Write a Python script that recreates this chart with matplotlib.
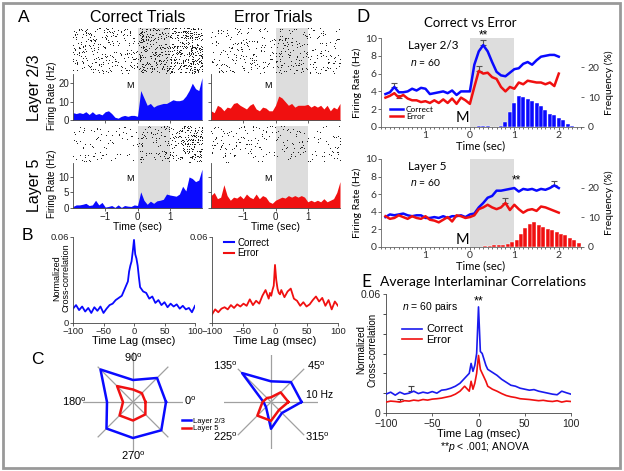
import numpy as np
import matplotlib
matplotlib.use('Agg')
import matplotlib.pyplot as plt
from matplotlib.patches import Rectangle
from matplotlib.lines import Line2D
from matplotlib.ticker import MultipleLocator

plt.rcParams['font.family'] = ['Liberation Sans', 'DejaVu Sans']
plt.rcParams['mathtext.fontset'] = 'custom'
plt.rcParams['mathtext.rm'] = 'Liberation Sans'
plt.rcParams['mathtext.it'] = 'Liberation Sans:italic'

W, H = 624, 471
BLUE = '#0a0aff'
RED = '#f01010'
SHADE = '#dddddd'
CAL = ['Lato', 'DejaVu Sans']

# ---------------- data: panel A (PSTH, Hz, 0.1 s bins from -2 to 2) ----------------
t_psth = np.round(np.arange(-2.0, 2.01, 0.1), 2)
psth_l23_correct = [4, 3.5, 4, 3.5, 4.5, 3, 4.5, 3, 3.5, 2.8, 4.5, 5, 3.5, 1.5, 1.0, 2, 2.5, 2.0, 2.5, 2.5,
                    2.0, 16, 12, 8, 9, 7, 8, 8.5, 9, 9, 10, 11, 10.5, 10.5, 11, 13, 16, 20, 17, 16, 23]
psth_l23_error = [5, 4, 8, 7, 5, 7, 6.5, 9, 9.5, 8, 7, 6, 8, 9, 6, 5, 7, 6.5, 5, 5,
                  8, 13, 12, 10, 8, 9, 7, 8, 8, 8, 8.5, 7, 8, 7, 8, 6, 8, 5, 7, 6, 9]
psth_l5_correct = [0.5, 1, 1, 1.2, 1.5, 0.8, 1, 2.5, 1, 1.8, 0.3, 0.5, 0.8, 0.2, 1, 0.2, 0.8, 0.6, 0.5, 1,
                   0.8, 5.2, 2.5, 1.2, 2.2, 1.5, 2.3, 2.5, 2.8, 4.5, 4.2, 4, 3.8, 4.5, 7, 5.5, 10, 9.5, 8.5, 9, 12.5]
psth_l5_error = [4, 5, 3, 3.5, 7.5, 4, 2.5, 3.5, 3.2, 4, 3, 4.5, 3.5, 3, 4.5, 3, 4, 3.5, 2, 1.5,
                 2.5, 3, 3.5, 3.2, 4, 3.5, 4, 3.5, 4, 3.5, 2, 2.5, 2, 2.5, 2, 3, 2, 2.5, 3, 5, 8.5]

# ---------------- data: panel B / E (cross-correlation) ----------------
lag = [-100, -95, -90, -85, -80, -75, -70, -65, -60, -55, -50, -45, -40, -35, -30, -25, -20, -15, -10,
       -8, -6, -4, -2, 0, 2, 4, 6, 8, 10, 15, 20, 25, 30, 35, 40, 45, 50, 55, 60, 65, 70, 75, 80, 85, 90, 95, 100]
ccg_b_correct = [0.010, 0.0125, 0.009, 0.0115, 0.008, 0.0105, 0.007, 0.011, 0.0085, 0.0115, 0.007, 0.010,
                 0.0125, 0.0135, 0.016, 0.0175, 0.019, 0.024, 0.029, 0.036, 0.040, 0.043, 0.050, 0.058,
                 0.048, 0.045, 0.040, 0.032, 0.025, 0.022, 0.021, 0.017, 0.0185, 0.014, 0.016, 0.0125,
                 0.0145, 0.011, 0.0135, 0.0115, 0.013, 0.010, 0.012, 0.0095, 0.0105, 0.0075, 0.012]
ccg_b_error = [0.006, 0.0095, 0.0075, 0.010, 0.011, 0.0095, 0.0125, 0.0105, 0.013, 0.0115, 0.0135, 0.012,
               0.0165, 0.0125, 0.0155, 0.0135, 0.019, 0.023, 0.017, 0.021, 0.019, 0.023, 0.026, 0.0405,
               0.030, 0.024, 0.021, 0.020, 0.023, 0.018, 0.022, 0.024, 0.017, 0.0155, 0.012, 0.0145,
               0.0115, 0.013, 0.016, 0.0185, 0.015, 0.0175, 0.012, 0.016, 0.0095, 0.015, 0.012]
ccg_e_correct = [0.0095, 0.0105, 0.009, 0.0105, 0.0095, 0.010, 0.011, 0.0098, 0.0105, 0.010, 0.0108, 0.010,
                 0.0115, 0.0118, 0.0125, 0.0135, 0.015, 0.0175, 0.020, 0.025, 0.021, 0.024, 0.030, 0.0535,
                 0.031, 0.030, 0.027, 0.024, 0.022, 0.0205, 0.019, 0.017, 0.0155, 0.014, 0.0135, 0.0125,
                 0.012, 0.0115, 0.0118, 0.011, 0.0105, 0.010, 0.0095, 0.0092, 0.011, 0.0102, 0.0095]
ccg_e_error = [0.0055, 0.006, 0.0058, 0.0055, 0.0062, 0.006, 0.0065, 0.0062, 0.0068, 0.0065, 0.007, 0.0072,
               0.0075, 0.008, 0.0085, 0.0095, 0.011, 0.0135, 0.011, 0.016, 0.012, 0.015, 0.020, 0.029,
               0.022, 0.020, 0.018, 0.016, 0.0135, 0.012, 0.011, 0.0098, 0.0088, 0.0082, 0.0078, 0.0072,
               0.007, 0.0068, 0.0065, 0.0062, 0.0064, 0.006, 0.0058, 0.0062, 0.0055, 0.006, 0.0058]

# ---------------- data: panel C (tuning, Hz) ----------------
directions = [0, 45, 90, 135, 180, 225, 270, 315]
tune1_l23 = [6.6, 6.8, 4.4, 9.2, 5.2, 7.5, 7.2, 8.0]
tune1_l5 = [2.5, 2.5, 2.5, 4.5, 2.0, 3.8, 3.7, 3.5]
tune2_l23 = [6.5, 6.0, 4.4, 8.7, 1.6, 1.5, 5.7, 3.3]
tune2_l5 = [3.7, 2.9, 1.0, 1.2, 1.8, 4.1, 4.0, 2.4]

# ---------------- data: panel D (population firing rate) ----------------
t_pop = np.round(np.arange(-1.9, 2.01, 0.1), 2)
pop_l23_correct = [3.7, 3.9, 4.5, 3.9, 3.9, 4.0, 4.3, 4.1, 4.4, 4.3, 3.7, 3.8, 3.9, 4.0, 3.8, 4.1, 3.6, 4.0, 4.0,
                   4.0, 7.0, 8.5, 9.2, 8.5, 7.3, 6.2, 5.8, 5.7, 6.1, 6.5, 6.6, 7.1, 7.3, 7.0, 7.5, 7.9, 8.0, 8.1, 8.1, 7.9]
pop_l23_error = [3.3, 3.5, 3.8, 3.3, 3.6, 3.2, 3.0, 3.0, 2.8, 2.9, 2.7, 3.0, 2.7, 3.1, 2.7, 3.2, 2.6, 3.3, 3.0,
                 2.6, 4.5, 6.3, 6.0, 6.1, 5.6, 5.4, 4.5, 4.0, 4.5, 4.3, 5.0, 4.8, 5.2, 5.1, 5.0, 5.0, 4.8, 5.0, 4.6, 6.0]
pop_l5_correct = [3.4, 3.7, 3.6, 3.7, 3.8, 3.6, 3.5, 3.6, 3.6, 3.3, 3.3, 3.4, 3.3, 3.5, 3.3, 3.5, 3.5, 3.6, 3.4,
                  3.7, 3.8, 4.5, 5.0, 5.6, 5.8, 6.4, 6.4, 6.5, 6.6, 6.7, 6.3, 6.6, 6.5, 6.6, 6.4, 6.6, 6.5, 6.7, 7.0, 6.7]
pop_l5_error = [3.5, 3.2, 3.3, 3.6, 3.4, 3.2, 3.5, 3.3, 3.2, 3.5, 3.1, 3.0, 2.8, 3.1, 3.4, 2.9, 3.6, 3.5, 3.3,
                3.4, 3.6, 4.3, 4.5, 4.8, 4.5, 4.3, 4.5, 5.0, 4.2, 4.8, 4.3, 3.9, 4.2, 4.3, 4.1, 4.6, 4.5, 4.3, 4.1, 3.9]
# error bars: (time, value, sem)
err_l23_correct = [(-1.7, 4.5, 0.4), (0.3, 9.2, 0.6)]
err_l23_error = [(-1.6, 3.3, 0.3), (0.2, 6.3, 0.5)]
err_l5_correct = [(-1.7, 3.6, 0.2), (1.9, 7.0, 0.5)]
err_l5_error = [(0.8, 5.0, 0.6)]
# reaction time histograms (%)
rt_t23 = np.round(np.arange(0.2, 2.31, 0.1), 2)
rt_l23 = [0.2, 0.2, 0.2, 0, 0, 0.3, 1.7, 5.0, 7.9, 10.3, 10.1, 9.3, 8.7, 7.9, 7.0, 5.8, 4.5, 3.9, 3.1, 2.2, 1.1, 0.3]
rt_t5 = np.round(np.arange(0.35, 2.46, 0.1), 2)
rt_l5 = [0.2, 0.5, 0.8, 0.6, 0.8, 1.1, 1.6, 2.4, 4.3, 6.3, 7.7, 8.6, 7.4, 6.7, 6.0, 5.8, 5.2, 4.3, 3.9, 3.2, 2.4, 1.3]


fig = plt.figure(figsize=(W / 100, H / 100), dpi=100)


def add_ax(x0, y0, x1, y1, **kw):
    return fig.add_axes([x0 / W, 1 - y1 / H, (x1 - x0) / W, (y1 - y0) / H], **kw)


def ftext(x, y, s, **kw):
    kw.setdefault('ha', 'center')
    kw.setdefault('va', 'center')
    fig.text(x / W, 1 - y / H, s, **kw)


def style(ax, lw=0.6, color='#444444'):
    for s in ['top', 'right']:
        ax.spines[s].set_visible(False)
    for s in ['left', 'bottom']:
        ax.spines[s].set_linewidth(lw)
        ax.spines[s].set_color(color)
    ax.tick_params(length=2, width=0.5, labelsize=7, pad=1, colors='#222222')


def draw_raster(ax, rate, base, gain, ntr, seed):
    # spike dots spread with a quadratic Weyl sequence, density follows the PSTH
    xs, ys = [], []
    k = seed
    for t0, r in zip(t_psth, rate):
        n = int(round(base + gain * r))
        for j in range(n):
            k += 1
            xs.append(t0 - 0.05 + ((k * 0.7548776662 + k * k * 0.4142135623) % 1) * 0.1)
            ys.append(((k * k * 0.5698402910 + k * 0.1234567) % 1) * ntr)
    ax.axvspan(0, 1, color=SHADE, lw=0, zorder=0)
    ax.plot(xs, ys, ls='none', marker=',', color='#222222', zorder=2)
    ax.set_xlim(-2, 2)
    ax.set_ylim(0, ntr)
    ax.axis('off')


def draw_psth(ax, rate, color, ymax, yticks, show_ylabels, xlabels):
    ax.axvspan(0, 1, color=SHADE, lw=0, zorder=0)
    ax.fill_between(t_psth, 0, rate, color=color, lw=0, zorder=2)
    ax.set_xlim(-2, 2)
    ax.set_ylim(0, ymax)
    style(ax)
    ax.set_yticks(yticks)
    if not show_ylabels:
        ax.set_yticklabels([])
    ax.set_xticks([-1, 0, 1])
    if xlabels:
        ax.set_xticklabels(['\u22121', '0', '1'])
        ax.set_xlabel('Time (sec)', fontsize=7.5, labelpad=0)
    else:
        ax.set_xticklabels([])


# ---------------- panel A ----------------
ftext(24, 17, 'A', fontsize=12.5)
ftext(138, 17, 'Correct Trials', fontsize=11.5)
ftext(273, 17, 'Error Trials', fontsize=11.5)
ftext(35, 88, 'Layer 2/3', fontsize=11.5, rotation=90)
ftext(35, 185, 'Layer 5', fontsize=11.5, rotation=90)
ftext(52, 96, 'Firing Rate (Hz)', fontsize=7, rotation=90)
ftext(52, 184, 'Firing Rate (Hz)', fontsize=7, rotation=90)

draw_raster(add_ax(73, 28, 202, 74), psth_l23_correct, 7, 2.0, 40, 0)
draw_raster(add_ax(211, 28, 340, 74), psth_l23_error, 1, 1.1, 40, 5000)
draw_raster(add_ax(73, 126, 202, 163), psth_l5_correct, 2, 2.4, 40, 10000)
draw_raster(add_ax(211, 126, 340, 163), psth_l5_error, 1, 1.2, 40, 15000)

ax = add_ax(73, 74, 202, 120)
draw_psth(ax, psth_l23_correct, BLUE, 25, [0, 10, 20], True, False)
ax.text(-0.12, 18.5, 'M', fontsize=6.5, ha='right', va='center')
ax = add_ax(211, 74, 340, 120)
draw_psth(ax, psth_l23_error, RED, 25, [0, 10, 20], False, False)
ax.text(-0.12, 18.5, 'M', fontsize=6.5, ha='right', va='center')
ax = add_ax(73, 163, 202, 208)
draw_psth(ax, psth_l5_correct, BLUE, 14.5, [0, 5, 10], True, True)
ax.text(-0.12, 9.5, 'M', fontsize=6.5, ha='right', va='center')
ax = add_ax(211, 163, 340, 208)
draw_psth(ax, psth_l5_error, RED, 14.5, [0, 5, 10], False, True)
ax.text(-0.12, 9.5, 'M', fontsize=6.5, ha='right', va='center')

# ---------------- panel B ----------------
ftext(27, 236, 'B', fontsize=12.5)
ftext(61, 278, 'Normalized\nCross-correlation', fontsize=6.5, rotation=90, linespacing=1.05)
for (x0, x1, vals, color, ylabels) in [(73, 195, ccg_b_correct, BLUE, ['0', '0.06']),
                                       (212, 338, ccg_b_error, RED, ['', '0.06'])]:
    ax = add_ax(x0, 237, x1, 323)
    ax.plot(lag, vals, color=color, lw=1.3)
    ax.set_xlim(-100, 100)
    ax.set_ylim(0, 0.06)
    style(ax)
    ax.set_yticks([0, 0.06])
    ax.set_yticklabels(ylabels)
    ax.set_xticks([-100, -50, 0, 50, 100])
    ax.set_xticklabels(['\u2212100', '\u221250', '0', '50', '100'])
    ax.tick_params(labelsize=6.8)
    ax.set_xlabel('Time Lag (msec)', fontsize=8, labelpad=0)
ax.legend(handles=[Line2D([], [], color=BLUE, lw=1.5), Line2D([], [], color=RED, lw=1.5)],
          labels=['Correct', 'Error'], loc='upper left', bbox_to_anchor=(0.05, 1.06), frameon=False,
          fontsize=7, handlelength=1.0, handletextpad=0.4, labelspacing=0.05, borderpad=0.1)

# ---------------- panel C ----------------
ftext(37, 360, 'C', fontsize=12.5)


def radar(cx, cy, rad, l23, l5):
    ax = add_ax(cx - rad, cy - rad, cx + rad, cy + rad, projection='polar')
    th = np.deg2rad(directions + [directions[0]])
    for d in directions:
        ax.plot([np.deg2rad(d)] * 2, [0, 10], color='#a0a0a0', lw=0.9, zorder=1)
    ax.plot(th, l23 + [l23[0]], color=BLUE, lw=1.8, zorder=3)
    ax.plot(th, l5 + [l5[0]], color=RED, lw=1.8, zorder=3)
    ax.set_ylim(0, 10)
    ax.axis('off')
    return ax


radar(133, 402, 50, tune1_l23, tune1_l5)
ftext(133, 358, r'90$^{\mathrm{o}}$', fontsize=8)
ftext(74, 402, r'180$^{\mathrm{o}}$', fontsize=8)
ftext(190, 401, r'0$^{\mathrm{o}}$', fontsize=8)
ftext(133, 456, r'270$^{\mathrm{o}}$', fontsize=8)
fig.legend(handles=[Line2D([], [], color=BLUE, lw=1.8), Line2D([], [], color=RED, lw=1.8)],
           labels=['Layer 2/3', 'Layer 5'], loc='upper left', bbox_to_anchor=(177 / W, 1 - 413 / H),
           frameon=False, fontsize=5.5, handlelength=1.2, handletextpad=0.3, labelspacing=0.0, borderpad=0.1)

radar(271, 402, 47, tune2_l23, tune2_l5)
ftext(225, 366, r'135$^{\mathrm{o}}$', fontsize=8)
ftext(316, 366, r'45$^{\mathrm{o}}$', fontsize=8)
ftext(320, 395, '10 Hz', fontsize=7.5)
ftext(225, 437, r'225$^{\mathrm{o}}$', fontsize=8)
ftext(317, 437, r'315$^{\mathrm{o}}$', fontsize=8)

# ---------------- panel D ----------------
ftext(363, 17, 'D', fontsize=12.5, family=CAL)
ftext(470, 23, 'Correct vs Error', fontsize=9.5, family=CAL)


def pop_panel(y0, y1, blue, red, errs_b, errs_r, rt_t, rt, rt_color, layer, star_t, star_y, m_y, leg):
    ax = add_ax(381, y0, 581, y1)
    ax.axvspan(0, 1, color=SHADE, lw=0, zorder=0)
    ax.plot(t_pop, blue, color=BLUE, lw=1.8, zorder=3)
    ax.plot(t_pop, red, color=RED, lw=1.8, zorder=3)
    for (tt, v, e) in errs_b + errs_r:
        ax.errorbar([tt], [v], yerr=[[0], [e]], color='#555555', lw=0.8, capsize=2, capthick=0.8, zorder=2)
    ax.set_xlim(-2, 2.5)
    ax.set_ylim(0, 10)
    for s in ['top', 'right']:
        ax.spines[s].set_visible(False)
    for s in ['left', 'bottom']:
        ax.spines[s].set_linewidth(0.6)
        ax.spines[s].set_color('#666666')
    ax.set_yticks([0, 2, 4, 6, 8, 10])
    ax.set_xticks([-1, 0, 1, 2])
    ax.set_xticklabels(['1', '0', '1', '2'])
    ax.xaxis.set_minor_locator(MultipleLocator(0.1))
    ax.tick_params(length=2, width=0.5, labelsize=7.5, pad=1, colors='#333333')
    ax.tick_params(which='minor', length=1.2, width=0.4)
    for lab in ax.get_xticklabels() + ax.get_yticklabels():
        lab.set_family(CAL)
    ax.set_xlabel('Time (sec)', fontsize=8, labelpad=0, family=CAL)
    ax.set_ylabel('Firing Rate (Hz)', fontsize=7.5, labelpad=2, family=CAL)
    ax.text(-1.4, 9.2, layer, fontsize=8.5, family=CAL, va='center')
    ax.text(-1.35, 7.3, '$n$ = 60', fontsize=7.5, family=CAL, va='center')
    ax.text(star_t, star_y, '**', fontsize=8.5, ha='center', va='center', clip_on=False)
    ax.text(-0.16, m_y, 'M', fontsize=10.5, family=CAL, ha='center', va='center')
    if leg:
        ax.legend(handles=[Line2D([], [], color=BLUE, lw=1.8), Line2D([], [], color=RED, lw=1.8)],
                  labels=['Correct', 'Error'], loc='lower left', bbox_to_anchor=(0.02, 0.02),
                  frameon=False, prop={'family': CAL, 'size': 6}, handlelength=1.5,
                  handletextpad=0.4, labelspacing=0.0, borderpad=0.1)
    ax2 = ax.twinx()
    ax2.bar(rt_t, rt, width=0.09, color=rt_color, edgecolor='white', lw=0.3, zorder=2)
    ax2.set_ylim(0, 29.7)
    ax2.set_yticks([0, 10, 20])
    for s in ['top', 'right', 'left', 'bottom']:
        ax2.spines[s].set_visible(False)
    ax2.tick_params(length=2, width=0.5, labelsize=7.5, pad=3, colors='#333333')
    for lab in ax2.get_yticklabels():
        lab.set_family(CAL)
    ax2.set_ylabel('Frequency (%)', fontsize=7.5, labelpad=3, family=CAL)
    return ax


pop_panel(38, 127, pop_l23_correct, pop_l23_error, err_l23_correct, err_l23_error,
          rt_t23, rt_l23, BLUE, 'Layer 2/3', 0.3, 10.25, 1.0, True)
pop_panel(159, 247, pop_l5_correct, pop_l5_error, err_l5_correct, err_l5_error,
          rt_t5, rt_l5, RED, 'Layer 5', 1.05, 7.6, 0.8, False)

# ---------------- panel E ----------------
ftext(366, 282, 'E', fontsize=12.5, family=CAL)
ftext(483, 282, 'Average Interlaminar Correlations', fontsize=10, family=CAL)
ax = add_ax(386, 294, 571, 413)
ax.plot(lag, ccg_e_correct, color='#1a1aee', lw=1.2, zorder=3)
ax.plot(lag, ccg_e_error, color=RED, lw=1.2, zorder=3)
ax.errorbar([-73], [0.011], yerr=[[0], [0.0025]], color='#444444', lw=0.8, capsize=2, capthick=0.8)
ax.errorbar([-85], [0.0058], yerr=[[0], [0.0012]], color='#444444', lw=0.8, capsize=2, capthick=0.8)
ax.set_xlim(-100, 100)
ax.set_ylim(0, 0.06)
style(ax)
ax.set_yticks([0, 0.06])
ax.set_yticklabels(['0', '0.06'])
ax.yaxis.set_minor_locator(MultipleLocator(0.01))
ax.tick_params(which='minor', length=2, width=0.5)
ax.set_xticks([-100, -50, 0, 50, 100])
ax.set_xticklabels(['\u2212100', '\u221250', '0', '50', '100'])
ax.tick_params(labelsize=7.5)
ax.tick_params(axis='x', pad=2.5)
ax.tick_params(axis='y', pad=2)
ax.set_xlabel('Time Lag (msec)', fontsize=8, labelpad=0)
ftext(367, 350, 'Normalized\nCross-correlation', fontsize=7, rotation=90, linespacing=1.1)
ax.text(-83, 0.0535, '$n$ = 60 pairs', fontsize=7.5, va='center')
ax.text(0, 0.0565, '**', fontsize=9, ha='center', va='center')
ax.legend(handles=[Line2D([], [], color='#1a1aee', lw=1.2), Line2D([], [], color=RED, lw=1.2)],
          labels=['Correct', 'Error'], loc='upper left', bbox_to_anchor=(0.05, 0.8), frameon=False,
          fontsize=8, handlelength=1.8, handletextpad=0.4, labelspacing=0.05, borderpad=0.1)
ftext(485, 447, '**$p$ < .001; ANOVA', fontsize=7.5)

# border
fig.patches.append(Rectangle((3 / W, 3 / H), 617 / W, 465 / H, transform=fig.transFigure,
                             fill=False, ec='#999999', lw=2))

fig.savefig('out.png', dpi=100)
